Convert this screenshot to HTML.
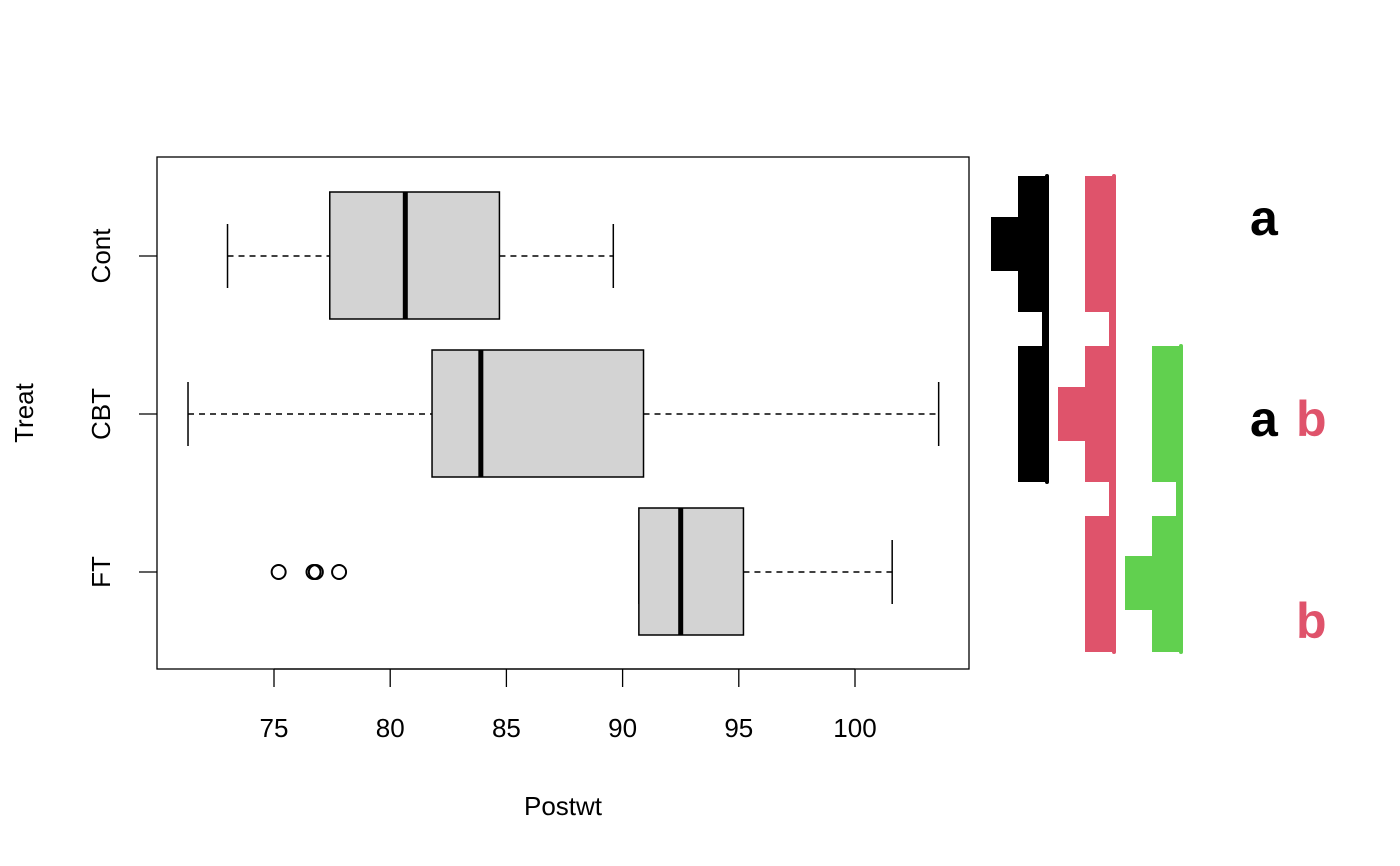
<!DOCTYPE html>
<html><head><meta charset="utf-8"><style>
html,body{margin:0;padding:0;background:#fff;}
svg{display:block;font-family:"Liberation Sans","DejaVu Sans",sans-serif;}
</style></head><body>
<svg id="chart" width="1400" height="866" viewBox="0 0 1400 866"></svg>
<script>
const categories = ["Cont","CBT","FT"];
const lowWhisker = [73.0, 71.3, 90.7];
const q1 = [77.4, 81.8, 90.7];
const medians = [80.65, 83.9, 92.5];
const q3 = [84.7, 90.9, 95.2];
const highWhisker = [89.6, 103.6, 101.6];
const outliers = [[],[],[75.2,76.7,76.8,77.8]];
const xTicks = [75,80,85,90,95,100];
const letters = [["a"],["a","b"],["b"]];

const NS="http://www.w3.org/2000/svg";
const svg=document.getElementById("chart");
function mk(t,a,p){const e=document.createElementNS(NS,t);for(const k in a)e.setAttribute(k,a[k]);(p||svg).appendChild(e);return e;}
const X=v=>274+(v-75)*(855-274)/25;
const Y=i=>256+i*158;

const frame=mk("rect",{x:157,y:157,width:812,height:512,fill:"none",stroke:"#000","stroke-width":1.3});



const xa=mk("g",{});


mk("line",{x1:X(xTicks[0]),x2:X(xTicks[xTicks.length-1]),y1:669,y2:669,stroke:"#000","stroke-width":1.3},xa);
xTicks.forEach(t=>{
  mk("line",{x1:X(t),x2:X(t),y1:669,y2:687,stroke:"#000","stroke-width":1.3},xa);
  const tx=mk("text",{x:X(t),y:737,"text-anchor":"middle","font-size":26},xa);tx.textContent=t;
  
  
});
const xt=mk("text",{x:563,y:815,"text-anchor":"middle","font-size":26});xt.textContent="Postwt";


const yt=mk("text",{x:0,y:0,"text-anchor":"middle","font-size":26,transform:"translate(33,413) rotate(-90)"});yt.textContent="Treat";



categories.forEach((c,i)=>{
  const y=Y(i);
  const g=mk("g",{});
  
  
  mk("line",{x1:139,x2:157,y1:y,y2:y,stroke:"#000","stroke-width":1.3},g);
  const lb=mk("text",{x:0,y:0,"text-anchor":"middle","font-size":26,transform:`translate(110,${y}) rotate(-90)`},g);lb.textContent=c;
  
  
  mk("line",{x1:X(lowWhisker[i]),x2:X(q1[i]),y1:y,y2:y,stroke:"#000","stroke-width":1.5,"stroke-dasharray":"6,5"},g);
  mk("line",{x1:X(q3[i]),x2:X(highWhisker[i]),y1:y,y2:y,stroke:"#000","stroke-width":1.5,"stroke-dasharray":"6,5"},g);
  mk("line",{x1:X(lowWhisker[i]),x2:X(lowWhisker[i]),y1:y-32,y2:y+32,stroke:"#000","stroke-width":1.5},g);
  mk("line",{x1:X(highWhisker[i]),x2:X(highWhisker[i]),y1:y-32,y2:y+32,stroke:"#000","stroke-width":1.5},g);
  mk("rect",{x:X(q1[i]),y:y-64,width:X(q3[i])-X(q1[i]),height:127,fill:"#d3d3d3",stroke:"#000","stroke-width":1.5},g);
  mk("line",{x1:X(medians[i]),x2:X(medians[i]),y1:y-64,y2:y+63,stroke:"#000","stroke-width":5},g);
  outliers[i].forEach(v=>{
    const o=mk("circle",{cx:X(v),cy:y,r:7,fill:"none",stroke:"#000","stroke-width":2},g);
    
    
  });
  letters[i].forEach(l=>{
    const isA=l==="a";
    const t=mk("text",{x:isA?1250:1296,y:[235,436,638][i],"font-size":50,"font-weight":"bold",fill:isA?"#000":"#df536b"});
    t.textContent=l;
    
    
  });
});

// letter bars (static decoration)
function bar(col,x,top,bot,wideY,wideX,gaps,name){
  const g=mk("g",{});
  
  
  mk("rect",{x:x,y:top,width:29,height:bot-top,fill:col},g);
  mk("rect",{x:wideX,y:wideY,width:x-wideX,height:54,fill:col},g);
  gaps.forEach(gy=>{mk("rect",{x:x-1,y:gy,width:25,height:34,fill:"#fff"},g);});
  mk("line",{x1:x+29,x2:x+29,y1:top,y2:bot,stroke:col,"stroke-width":4,"stroke-linecap":"round"},g);
}
bar("#000",1018,176,482,217,991,[312],"letter-bar-a");
bar("#df536b",1085,176,652,387,1058,[312,482],"letter-bar-b");
bar("#61d04f",1152,346,652,556,1125,[482],"letter-bar-c");
</script>
</body></html>
